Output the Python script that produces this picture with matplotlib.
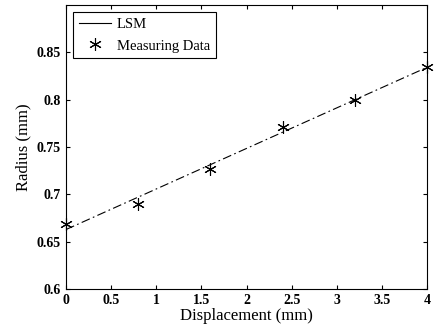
import numpy as np
import matplotlib.pyplot as plt

plt.rcParams['font.family'] = ['Liberation Serif', 'DejaVu Serif']

# measured points
disp = [0.0, 0.8, 1.6, 2.4, 3.2, 4.0]
radius = [0.669, 0.690, 0.727, 0.771, 0.800, 0.834]

xticks = [0, 0.5, 1, 1.5, 2, 2.5, 3, 3.5, 4]
yticks = [0.6, 0.65, 0.7, 0.75, 0.8, 0.85]

# least squares line
coef = np.polyfit(disp, radius, 1)
xfit = np.array([disp[0], disp[-1]])
yfit = np.polyval(coef, xfit)

fig = plt.figure(figsize=(4.34, 3.30), dpi=100)
ax = fig.add_axes([0.152, 0.124, 0.832, 0.861])

ax.plot(xfit, yfit, color='black', linewidth=0.8, dashes=(8, 3, 1.5, 3), label='LSM')
ax.plot(disp, radius, linestyle='none', marker=(6, 2, 0), markersize=9,
        markeredgewidth=0.8, color='black', label='Measuring Data', clip_on=False)

ax.set_xlim(0, 4)
ax.set_ylim(0.6, 0.9)
ax.set_xticks(xticks)
ax.set_xticklabels([f'{t:g}' for t in xticks])
ax.set_yticks(yticks)
ax.set_yticklabels([f'{t:g}' for t in yticks])
ax.tick_params(direction='in', top=True, right=True, length=3, labelsize=10)
for lab in ax.get_xticklabels() + ax.get_yticklabels():
    lab.set_fontweight('bold')

ax.set_xlabel('Displacement (mm)', fontsize=12, labelpad=1)
ax.set_ylabel('Radius (mm)', fontsize=12, labelpad=4)

leg = ax.legend(loc='upper left', prop={'size': 10.5}, fancybox=False,
                framealpha=1, edgecolor='black', borderaxespad=0.5,
                handlelength=2.2, handletextpad=0.4, borderpad=0.4, labelspacing=0.55)
leg.get_frame().set_linewidth(0.8)
leg.get_lines()[0].set_linestyle('-')

fig.savefig('out.png', dpi=100)
